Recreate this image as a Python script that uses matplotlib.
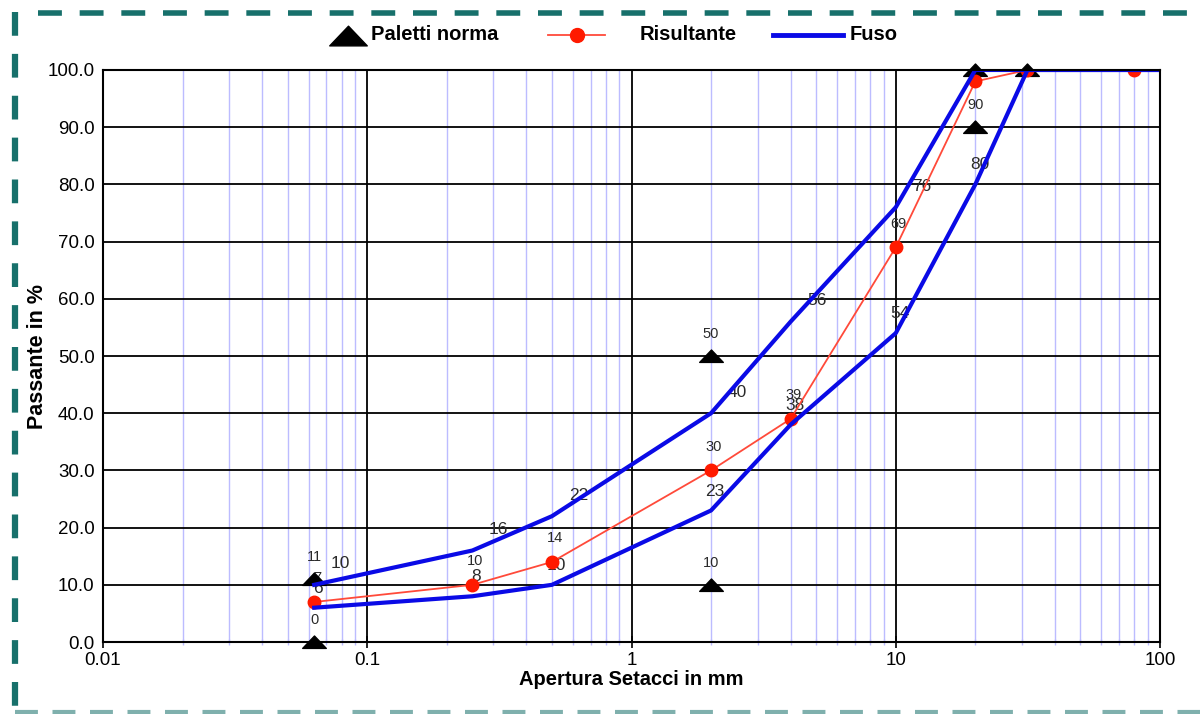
import matplotlib
matplotlib.use('Agg')
import matplotlib.pyplot as plt
from matplotlib.lines import Line2D
from matplotlib.path import Path
import numpy as np

plt.rcParams['font.family'] = ['Liberation Sans', 'DejaVu Sans']

# fuso granulometrico (limiti)
fuso_sup_mm = [0.063, 0.25, 0.5, 2, 4, 10, 20, 100]
fuso_sup = [10, 16, 22, 40, 56, 76, 100, 100]
fuso_inf_mm = [0.063, 0.25, 0.5, 2, 4, 10, 20, 31.5, 100]
fuso_inf = [6, 8, 10, 23, 38, 54, 80, 100, 100]

# curva risultante
ris_mm = [0.063, 0.25, 0.5, 2, 4, 10, 20, 31.5, 80]
ris = [7, 10, 14, 30, 39, 69, 98, 100, 100]

# paletti norma
pal_mm = [0.063, 0.063, 2, 2, 20, 20, 31.5]
pal = [0, 11, 10, 50, 90, 100, 100]

RED = '#ff4a3a'
RED_DOT = '#ff1a00'
BLUE = '#0a0ae6'
TEAL = '#17706b'

# triangolo schiacciato per i paletti
tri = Path([(-1, -0.5), (1, -0.5), (0, 0.55), (-1, -0.5)],
           [Path.MOVETO, Path.LINETO, Path.LINETO, Path.CLOSEPOLY])

W, H = 1200, 714
fig = plt.figure(figsize=(12, 7.14), dpi=100)
ax = fig.add_axes([0.0858, 0.1008, 0.8809, 0.8012])

ax.set_xscale('log')
ax.set_xlim(0.01, 100)
ax.set_ylim(0, 100)

# griglia
minor = [m * d for d in [0.01, 0.1, 1, 10] for m in range(2, 10)]
for x in minor:
    ax.axvline(x, color='#bcbcff', lw=1, zorder=0)
for x in [0.1, 1, 10]:
    ax.axvline(x, color='black', lw=1.3, zorder=0)
for y in range(10, 100, 10):
    ax.axhline(y, color='black', lw=1.3, zorder=0)

# etichette valori
def labels(xs, ys, dx, dy, size, skip_from):
    for x, y in zip(xs, ys):
        if y < skip_from:
            ax.annotate(str(y), (x, y), xytext=(dx, dy), textcoords='offset points',
                        ha='center', va='center', fontsize=size, color='#2a2a2a',
                        zorder=1, annotation_clip=True)

labels(fuso_sup_mm, fuso_sup, 19, 15, 12.5, 100)
labels(fuso_inf_mm, fuso_inf, 3, 14, 12.5, 100)
labels(ris_mm, ris, 2, 17, 10.5, 98)
labels(pal_mm, pal, 0, 16, 10.5, 100)

ax.plot(pal_mm, pal, linestyle='none', marker=tri, color='black',
        markersize=17, zorder=3, clip_on=False)
ax.plot(ris_mm, ris, color=RED, lw=1.3, marker='o', markerfacecolor=RED_DOT,
        markeredgecolor=RED_DOT, markersize=9, zorder=4)
ax.plot(fuso_sup_mm, fuso_sup, color=BLUE, lw=3, zorder=5)
ax.plot(fuso_inf_mm, fuso_inf, color=BLUE, lw=3, zorder=5)

for s in ax.spines.values():
    s.set_linewidth(1.5)
    s.set_zorder(6)

ax.set_yticks(np.arange(0, 101, 10))
ax.set_yticklabels(['%.1f' % v for v in np.arange(0, 101, 10)])
ax.set_xticks([0.01, 0.1, 1, 10, 100])
ax.set_xticklabels(['0.01', '0.1', '1', '10', '100'])
ax.set_xticks(minor, minor=True)
ax.tick_params(axis='y', length=0, labelsize=13.5, pad=6)
ax.tick_params(axis='x', which='major', direction='inout', length=8, width=1.2,
               labelsize=13.5, pad=3)
ax.tick_params(axis='x', which='minor', direction='inout', length=5, width=1,
               color='#bcbcff', labelbottom=False)
ax.set_xlabel('Apertura Setacci in mm', fontsize=14.5, fontweight='bold', labelpad=1)
ax.set_ylabel('Passante in %', fontsize=15.5, fontweight='bold', labelpad=0)

# legenda (disegnata a mano, in pixel della figura)
def px(x, y):
    return x / W, 1 - y / H

ly = 35
fig.add_artist(Line2D(*zip(px(348, ly + 1)), transform=fig.transFigure, marker=tri,
                      markersize=27, color='black', linestyle='none'))
fig.text(*px(371, ly), 'Paletti norma', fontsize=14.5, fontweight='bold', va='center')
fig.add_artist(Line2D(*zip(px(548, ly), px(605, ly)), transform=fig.transFigure,
                      color=RED, lw=1.3))
fig.add_artist(Line2D(*zip(px(577, ly)), transform=fig.transFigure, marker='o',
                      markersize=10, color=RED_DOT, linestyle='none'))
fig.text(*px(640, ly), 'Risultante', fontsize=14.5, fontweight='bold', va='center')
fig.add_artist(Line2D(*zip(px(773, ly), px(843, ly)), transform=fig.transFigure,
                      color=BLUE, lw=3.5))
fig.text(*px(850, ly), 'Fuso', fontsize=14.5, fontweight='bold', va='center')

# cornice tratteggiata
fig.add_artist(Line2D(*zip(px(15, 12), px(15, H)), transform=fig.transFigure,
                      color=TEAL, lw=4.5, linestyle=(0, (3.8, 2.9))))
fig.add_artist(Line2D(*zip(px(38, 13), px(W, 13)), transform=fig.transFigure,
                      color=TEAL, lw=4, linestyle=(0, (4.3, 3.2))))
fig.add_artist(Line2D(*zip(px(15, 712), px(W, 712)), transform=fig.transFigure,
                      color='#7fb0ad', lw=3, linestyle=(0, (5.5, 3.5))))

fig.savefig('out.png', dpi=100)
